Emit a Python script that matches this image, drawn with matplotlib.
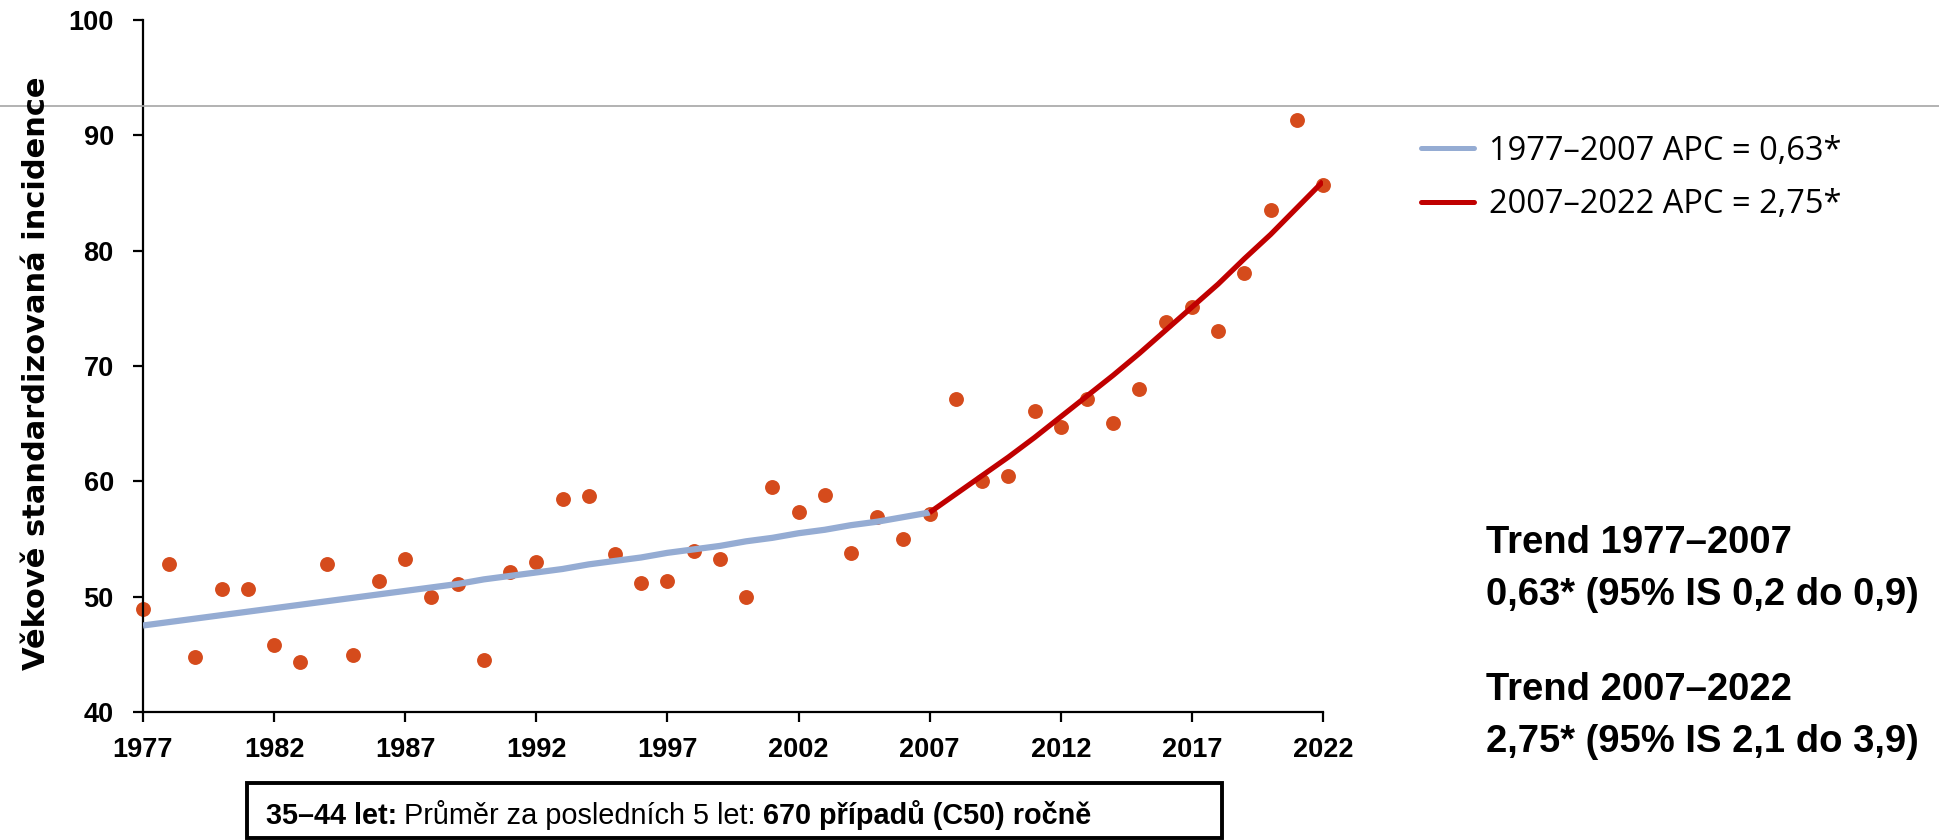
import matplotlib
matplotlib.use("Agg")
import matplotlib.pyplot as plt
from matplotlib.lines import Line2D
from matplotlib.patches import Rectangle

# observed age-standardised incidence, 1977-2022
years = list(range(1977, 2023))
incidence = [48.9, 52.8, 44.8, 50.7, 50.7, 45.8, 44.3, 52.8, 44.9, 51.4,
             53.3, 50.0, 51.1, 44.5, 52.1, 53.0, 58.5, 58.7, 53.7, 51.2,
             51.4, 54.0, 53.3, 50.0, 59.5, 57.3, 58.8, 53.8, 56.9, 55.0,
             57.2, 67.1, 60.0, 60.5, 66.1, 64.7, 67.1, 65.1, 68.0, 73.8,
             75.1, 73.0, 78.1, 83.5, 91.3, 85.7]

# joinpoint trend segments
trend1_years = list(range(1977, 2008))
trend1 = [47.5, 47.8, 48.1, 48.4, 48.7, 49.0, 49.3, 49.6, 49.9, 50.2,
          50.5, 50.8, 51.1, 51.5, 51.8, 52.1, 52.4, 52.8, 53.1, 53.4,
          53.8, 54.1, 54.4, 54.8, 55.1, 55.5, 55.8, 56.2, 56.5, 56.9, 57.3]
trend2_years = list(range(2007, 2023))
trend2 = [57.3, 58.9, 60.5, 62.1, 63.8, 65.6, 67.4, 69.2, 71.1, 73.1,
          75.1, 77.1, 79.3, 81.4, 83.7, 86.0]

legend_labels = ["1977\u20132007 APC = 0,63*", "2007\u20132022 APC = 2,75*"]
trend_notes = ["Trend 1977\u20132007", "0,63* (95% IS 0,2 do 0,9)",
               "Trend 2007\u20132022", "2,75* (95% IS 2,1 do 3,9)"]
box_parts = [("35\u201344 let:", "bold"),
             ("Pr\u016fm\u011br za posledn\u00edch 5 let:", "normal"),
             ("670 p\u0159\u00edpad\u016f (C50) ro\u010dn\u011b", "bold")]

BLUE = "#95ACD3"
RED = "#C00000"
DOTS = "#D54B1C"

W, H = 1940, 840
fig = plt.figure(figsize=(W / 100, H / 100), dpi=100)
ax = fig.add_axes([143 / W, 1 - 712 / H, (1323 - 143) / W, (712 - 20) / H])

ax.scatter(years, incidence, s=115, color=DOTS, zorder=2, clip_on=False,
           linewidths=0)
ax.plot(trend1_years, trend1, color=BLUE, lw=4.5, zorder=3, solid_capstyle="butt")
ax.plot(trend2_years, trend2, color=RED, lw=3.8, zorder=4, solid_capstyle="butt")

ax.set_xlim(1977, 2022)
ax.set_ylim(40, 100)
ax.set_xticks(range(1977, 2023, 5))
ax.set_yticks(range(40, 101, 10))
for side in ("top", "right"):
    ax.spines[side].set_visible(False)
for side in ("left", "bottom"):
    ax.spines[side].set_linewidth(1.6)
ax.tick_params(length=7, width=1.6, direction="out")
ax.tick_params(axis="x", pad=11)
ax.tick_params(axis="y", pad=14)
for lab in ax.get_xticklabels() + ax.get_yticklabels():
    lab.set_fontfamily("Liberation Sans")
    lab.set_fontweight("bold")
    lab.set_fontsize(19.5)

fig.text(37 / W, 1 - 373 / H, "V\u011bkov\u011b standardizovan\u00e1 incidence",
         rotation=90, ha="center", va="center", fontsize=22, fontweight="bold")

# thin grey rule across the whole figure
fig.add_artist(Line2D([0, 1], [1 - 106 / H, 1 - 106 / H], transform=fig.transFigure,
                      color="#A6A6A6", lw=1.2, zorder=1))

handles = [Line2D([], [], color=BLUE, lw=3.6, solid_capstyle="round"),
           Line2D([], [], color=RED, lw=3.6, solid_capstyle="round")]
fig.legend(handles=handles, labels=legend_labels, loc="center left",
           bbox_to_anchor=(1421 / W, 1 - 178 / H), frameon=False,
           prop={"family": "Open Sans", "size": 23.5},
           handlelength=1.63, handletextpad=0.45, labelspacing=0.62,
           borderpad=0, borderaxespad=0)

for note, yy in zip(trend_notes, [543, 595, 690, 741.5]):
    fig.text(1486 / W, 1 - yy / H, note, fontsize=27.5, fontweight="bold",
             family="Liberation Sans", va="center")

fig.add_artist(Rectangle((247 / W, 1 - 838 / H), (1222 - 247) / W, (838 - 782.5) / H,
                         transform=fig.transFigure, fill=False, ec="black", lw=2.8))
renderer = fig.canvas.get_renderer()
x = 266
for txt, weight in box_parts:
    t = fig.text(x / W, 1 - 824 / H, txt, fontsize=20.8, fontweight=weight,
                 family="Liberation Sans", va="baseline")
    x = t.get_window_extent(renderer).x1 + 7

fig.savefig("out.png", dpi=100)
